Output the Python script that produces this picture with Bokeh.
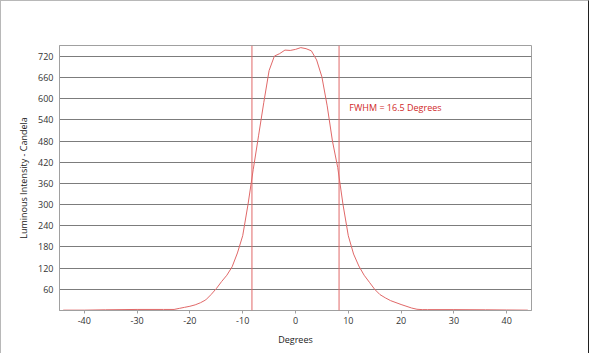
from bokeh.plotting import figure
from bokeh.models import Span, Label, FixedTicker, ColumnDataSource, PrintfTickFormatter
from bokeh.embed import file_html
from bokeh.resources import INLINE

degrees = [-44, -40, -36, -30, -25, -23, -22, -21, -20, -19, -18, -17, -16, -15, -14,
           -13, -12, -11, -10, -9, -8, -7, -6, -5, -4, -3, -2, -1, 0, 1, 2, 3, 4, 5,
           6, 7, 8, 9, 10, 11, 12, 13, 14, 15, 16, 17, 18, 20, 22, 23, 24, 25, 30, 36,
           40, 44]
candela = [1, 1, 2, 3, 3, 3, 6, 9, 12, 16, 22, 30, 45, 62, 82,
           100, 124, 163, 212, 300, 400, 495, 590, 680, 721, 728, 738, 737, 740, 745, 742, 736, 710, 662,
           580, 480, 405, 300, 212, 160, 126, 100, 80, 60, 45, 36, 28, 17, 7, 3.5, 2.5, 2.5, 2.5, 2,
           1.5, 1]
fwhm_edges = [-8.25, 8.25]
y_ticks = [60, 120, 180, 240, 300, 360, 420, 480, 540, 600, 660, 720]
x_ticks = [-40, -30, -20, -10, 0, 10, 20, 30, 40]
note = "FWHM = 16.5 Degrees"

FONT = "Open Sans"
RED = "#e06868"

p = figure(width=589, height=353, output_backend="svg", toolbar_location=None,
           x_range=(-44.7, 44.7), y_range=(0, 751),
           min_border_left=58, min_border_right=59, min_border_top=44, min_border_bottom=44)
p.styles = {"border-top": "1px solid #b8b8b8", "border-left": "1px solid #b8b8b8",
            "border-right": "1px solid #202020", "box-sizing": "border-box"}

p.background_fill_color = "white"
p.border_fill_color = "white"
p.outline_line_color = "#a0a0a0"
p.outline_line_width = 1

p.xgrid.visible = False
p.ygrid.ticker = FixedTicker(ticks=y_ticks)
p.ygrid.grid_line_color = "#7c7c7c"
p.ygrid.grid_line_width = 1

p.yaxis.ticker = FixedTicker(ticks=y_ticks)
p.xaxis.ticker = FixedTicker(ticks=x_ticks)
p.xaxis.formatter = PrintfTickFormatter(format="%d")
p.yaxis.formatter = PrintfTickFormatter(format="%d")
for ax in (p.xaxis[0], p.yaxis[0]):
    ax.axis_line_color = "#a0a0a0"
    ax.major_label_text_font = FONT
    ax.major_label_text_font_size = "9px"
    ax.major_label_text_color = "#333333"
    ax.axis_label_text_font = FONT
    ax.axis_label_text_font_size = "9px"
    ax.axis_label_text_font_style = "normal"
    ax.axis_label_text_color = "#222222"
    ax.minor_tick_line_color = None
p.yaxis.major_tick_line_color = None
p.yaxis.major_tick_in = 0
p.yaxis.major_tick_out = 0
p.yaxis.major_label_standoff = 6
p.xaxis.major_tick_line_color = "#a0a0a0"
p.xaxis.major_tick_in = 0
p.xaxis.major_tick_out = 3
p.xaxis.major_label_standoff = 3
p.xaxis.axis_label = "Degrees"
p.yaxis.axis_label = "Luminous Intensity - Candela"
p.xaxis.axis_label_standoff = 6
p.yaxis.axis_label_standoff = 5

src = ColumnDataSource(dict(x=degrees, y=candela))
p.line("x", "y", source=src, line_color=RED, line_width=1)

for e in fwhm_edges:
    p.add_layout(Span(location=e, dimension="height", line_color=RED, line_width=1))

p.add_layout(Label(x=10.2, y=575, text=note, text_font=FONT, text_font_size="9px",
                   text_color="#d02828", text_baseline="middle"))

open("out.html", "w").write(file_html(p, INLINE))
